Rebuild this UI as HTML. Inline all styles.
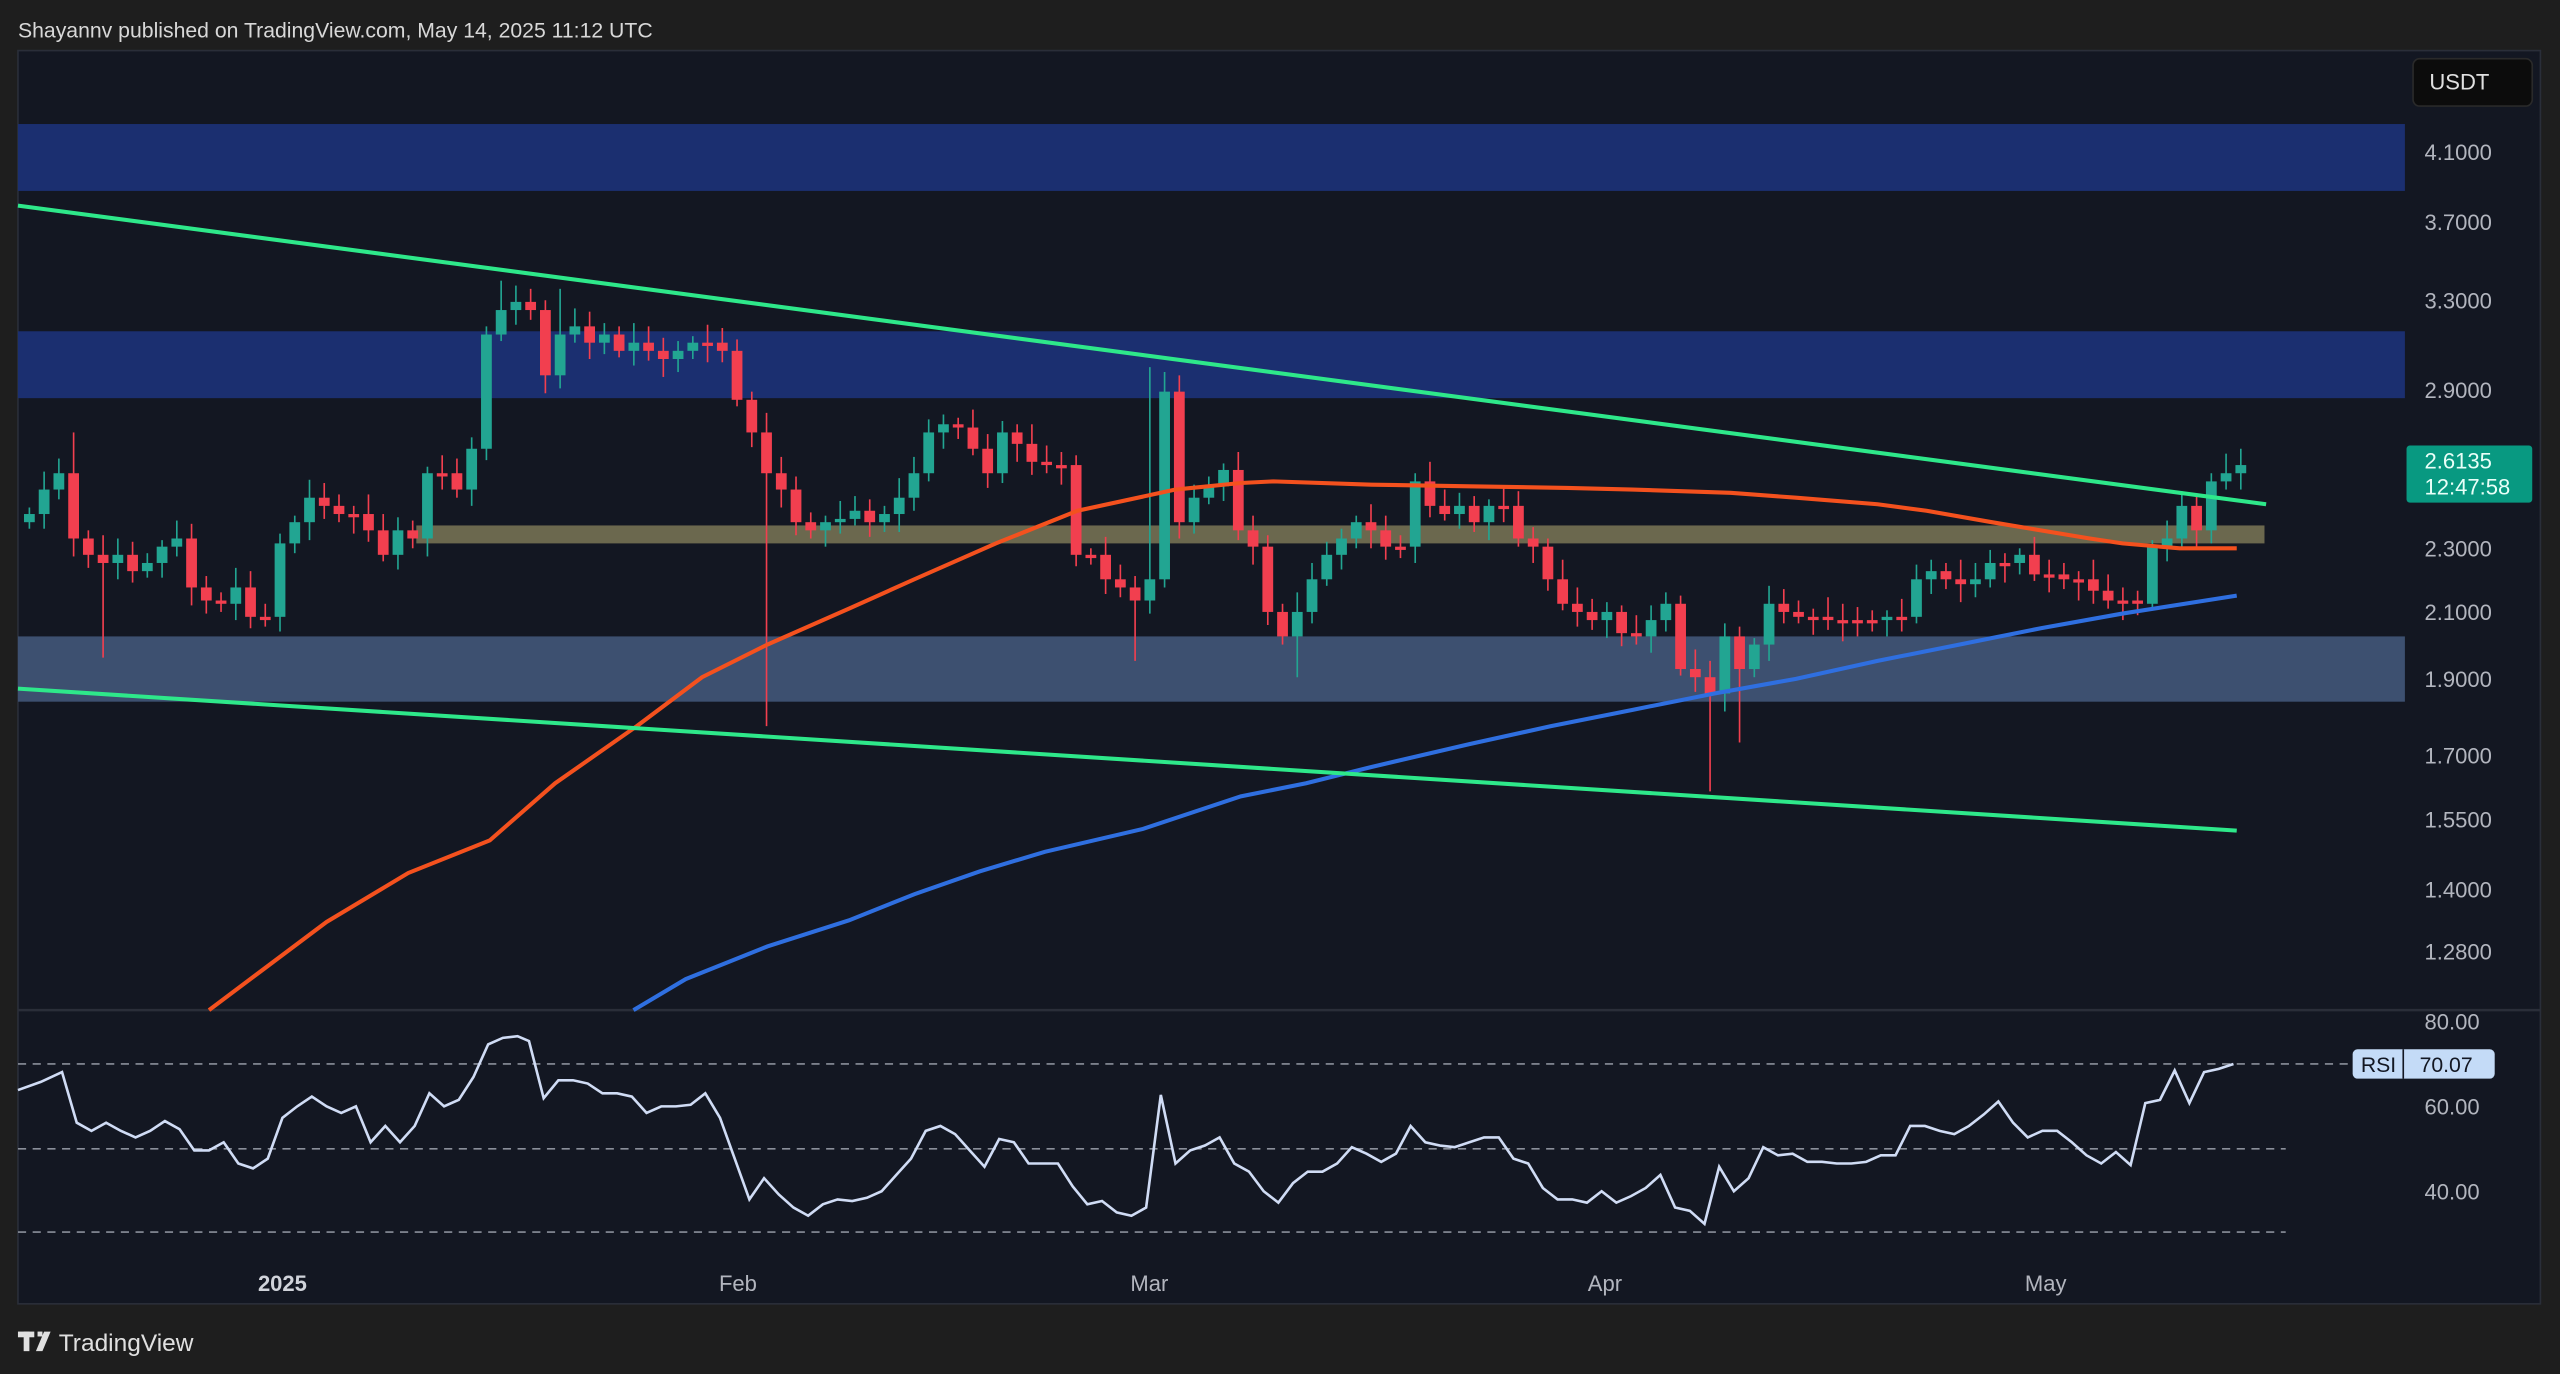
<!DOCTYPE html>
<html><head><meta charset="utf-8"><style>
html,body{margin:0;padding:0;background:#1e1e1e;width:2560px;height:1374px;overflow:hidden}
svg{display:block}
text{font-family:"Liberation Sans",sans-serif}
</style></head><body>
<svg id="s" width="2560" height="1374" viewBox="0 0 1568 842" preserveAspectRatio="none" xmlns="http://www.w3.org/2000/svg">
<rect x="0" y="0" width="1568" height="842" fill="#1e1e1e"/>
<text x="11" y="23" font-size="13" fill="#d8d8d8">Shayannv published on TradingView.com, May 14, 2025 11:12 UTC</text>
<rect x="11" y="31" width="1545" height="768" fill="#131722" stroke="#2a2e39" stroke-width="1"/>
<line x1="11" y1="619" x2="1556" y2="619" stroke="#2a2e39" stroke-width="1.5"/>
<rect x="11" y="76" width="1462" height="41" fill="#1b2f70"/>
<rect x="11" y="203" width="1462" height="41" fill="#1b2f70"/>
<rect x="11" y="390" width="1462" height="40" fill="#3d5070"/>
<rect x="255" y="322" width="1132" height="11" fill="#6b684e"/>
<g id="candles"></g>
<polyline fill="none" stroke="#f4511e" stroke-width="2.5" points="128,619 160,595 200,565 250,535 300,515 340,480 390,445 430,415 470,395 520,373 560,355 610,333 660,313 720,300 760,296 780,295 840,297 900,298 960,299 1000,300 1060,302 1100,305 1150,309 1180,313 1220,320 1250,325 1280,330 1300,333 1335,336 1370,336"/>
<polyline fill="none" stroke="#2f6fe0" stroke-width="2.5" points="388,619 420,600 470,580 520,564 560,548 600,534 640,522 700,508 760,488 800,480 840,470 900,456 950,445 1000,435 1050,425 1100,416 1150,405 1200,395 1250,385 1300,376 1370,365"/>
<line x1="11" y1="126" x2="1388" y2="309" stroke="#2ee88a" stroke-width="2.5"/>
<line x1="11" y1="422" x2="1370" y2="509" stroke="#2ee88a" stroke-width="2.5"/>
<g font-size="13.5" fill="#b2b5be">
<text x="1485" y="98">4.1000</text><text x="1485" y="141">3.7000</text><text x="1485" y="189">3.3000</text>
<text x="1485" y="244">2.9000</text><text x="1485" y="341">2.3000</text><text x="1485" y="380">2.1000</text>
<text x="1485" y="421">1.9000</text><text x="1485" y="468">1.7000</text><text x="1485" y="507">1.5500</text>
<text x="1485" y="550">1.4000</text><text x="1485" y="588">1.2800</text>
<text x="1485" y="631">80.00</text><text x="1485" y="683">60.00</text><text x="1485" y="735">40.00</text>
</g>
<rect x="1478" y="36" width="73" height="29" rx="4" fill="#0c0c0c" stroke="#2a2a2a"/>
<text x="1488" y="55" font-size="13.5" fill="#e0e0e0">USDT</text>
<rect x="1474" y="273" width="77" height="35" rx="2" fill="#089981"/>
<text x="1485" y="287" font-size="13.5" fill="#e8fff8">2.6135</text>
<text x="1485" y="303" font-size="13.5" fill="#e8fff8">12:47:58</text>
<g stroke="#8a8f9a" stroke-width="1" stroke-dasharray="5,4">
<line x1="11" y1="652" x2="1440" y2="652"/><line x1="11" y1="704" x2="1400" y2="704"/><line x1="11" y1="755" x2="1400" y2="755"/>
</g>
<polyline id="rsi" fill="none" stroke="#d0dcf5" stroke-width="1.6"/>
<rect x="1441" y="643" width="87" height="18" rx="3" fill="#c4dbf7"/>
<line x1="1472" y1="643" x2="1472" y2="661" stroke="#131722" stroke-width="1"/>
<text x="1446" y="657" font-size="13" fill="#131722">RSI</text>
<text x="1482" y="657" font-size="13" fill="#131722">70.07</text>
<g font-size="13.5" fill="#b2b5be">
<text x="173" y="791" text-anchor="middle" font-weight="bold" fill="#d0d3da">2025</text>
<text x="452" y="791" text-anchor="middle">Feb</text><text x="704" y="791" text-anchor="middle">Mar</text>
<text x="983" y="791" text-anchor="middle">Apr</text><text x="1253" y="791" text-anchor="middle">May</text>
</g>
<g fill="#e0e0e0"><rect x="11" y="816" width="10" height="3.5"/><rect x="14.5" y="816" width="3.5" height="12"/><rect x="23" y="816" width="3" height="3"/><polygon points="27,816 31,816 26,828 22,828"/></g>
<text x="36" y="828" font-size="15" fill="#e0e0e0">TradingView</text>
</svg>
<script>
(function(){
var c=[315,300,290,330,340,345,340,350,345,335,330,360,368,370,360,378,378,333,320,305,310,315,315,325,340,325,330,290,290,300,275,205,190,185,190,230,205,200,210,205,215,210,215,220,215,210,210,215,245,265,290,300,320,325,320,318,313,320,315,305,290,265,260,262,275,290,265,272,283,285,285,340,340,355,360,368,355,240,320,305,298,288,325,335,375,390,375,355,340,330,320,325,335,335,295,310,315,310,320,310,310,330,335,355,370,375,380,375,388,390,380,370,410,415,425,390,410,395,370,375,378,378,380,380,380,380,378,378,355,350,355,358,355,345,345,340,352,352,355,355,362,368,368,370,335,330,310,325,295,290,285];
var lows={5:403,50:445,75:405,86:415,114:485,116:455};
var highs={76:225,32:172,36:177,3:265};
var h='',prev=320;
for(var i=0;i<c.length;i++){var x=18+i*9.03,o=prev,cl=c[i];var up=cl<o;var col=up?'#22a592':'#f23f4f';
var tp=Math.min(o,cl),bt=Math.max(o,cl);if(bt-tp<2){bt=tp+2}
var hi=tp-4-(i*7%9),lo=bt+4+(i*5%8);if(highs[i])hi=highs[i];if(lows[i])lo=lows[i];
h+='<line x1="'+x+'" x2="'+x+'" y1="'+hi+'" y2="'+lo+'" stroke="'+col+'" stroke-width="1"/>';
h+='<rect x="'+(x-3.3)+'" y="'+tp+'" width="6.6" height="'+(bt-tp)+'" fill="'+col+'"/>';prev=cl;}
document.getElementById('candles').innerHTML=h;
document.getElementById('rsi').setAttribute('points',"11,668 25,663 38,657 47,688 56,693 65,688 74,693 83,697 92,693 101,687 110,692 119,705 128,705 137,700 146,713 155,716 164,710 173,685 182,678 191,672 200,678 209,682 218,678 227,700 236,690 245,700 254,690 263,670 272,678 281,674 290,660 299,640 308,636 317,635 324,638 333,673 342,662 351,662 360,664 369,670 378,670 387,672 396,682 405,678 414,678 423,677 432,670 441,685 450,710 459,735 468,722 477,732 486,740 495,745 504,738 513,735 522,736 531,734 540,730 549,720 558,710 567,693 576,690 585,695 594,705 603,715 612,698 621,700 630,713 639,713 648,713 657,727 666,738 675,736 684,743 693,745 702,740 711,671 720,713 729,705 738,702 747,697 756,713 765,718 774,730 783,737 792,725 801,718 810,718 819,713 828,703 837,707 846,712 855,707 864,690 873,700 882,702 891,703 900,700 909,697 918,697 927,710 936,713 945,728 954,735 963,735 972,737 981,730 990,737 999,733 1008,728 1017,720 1026,740 1035,742 1044,750 1053,715 1062,730 1071,722 1080,703 1089,708 1098,707 1107,712 1116,712 1125,713 1134,713 1143,712 1152,708 1161,708 1170,690 1179,690 1188,693 1197,695 1206,690 1215,683 1224,675 1233,688 1242,697 1251,693 1260,693 1269,700 1278,708 1287,713 1296,706 1305,714 1314,676 1323,674 1332,656 1341,676 1350,657 1359,655 1368,652");
})();
</script>
</body></html>
